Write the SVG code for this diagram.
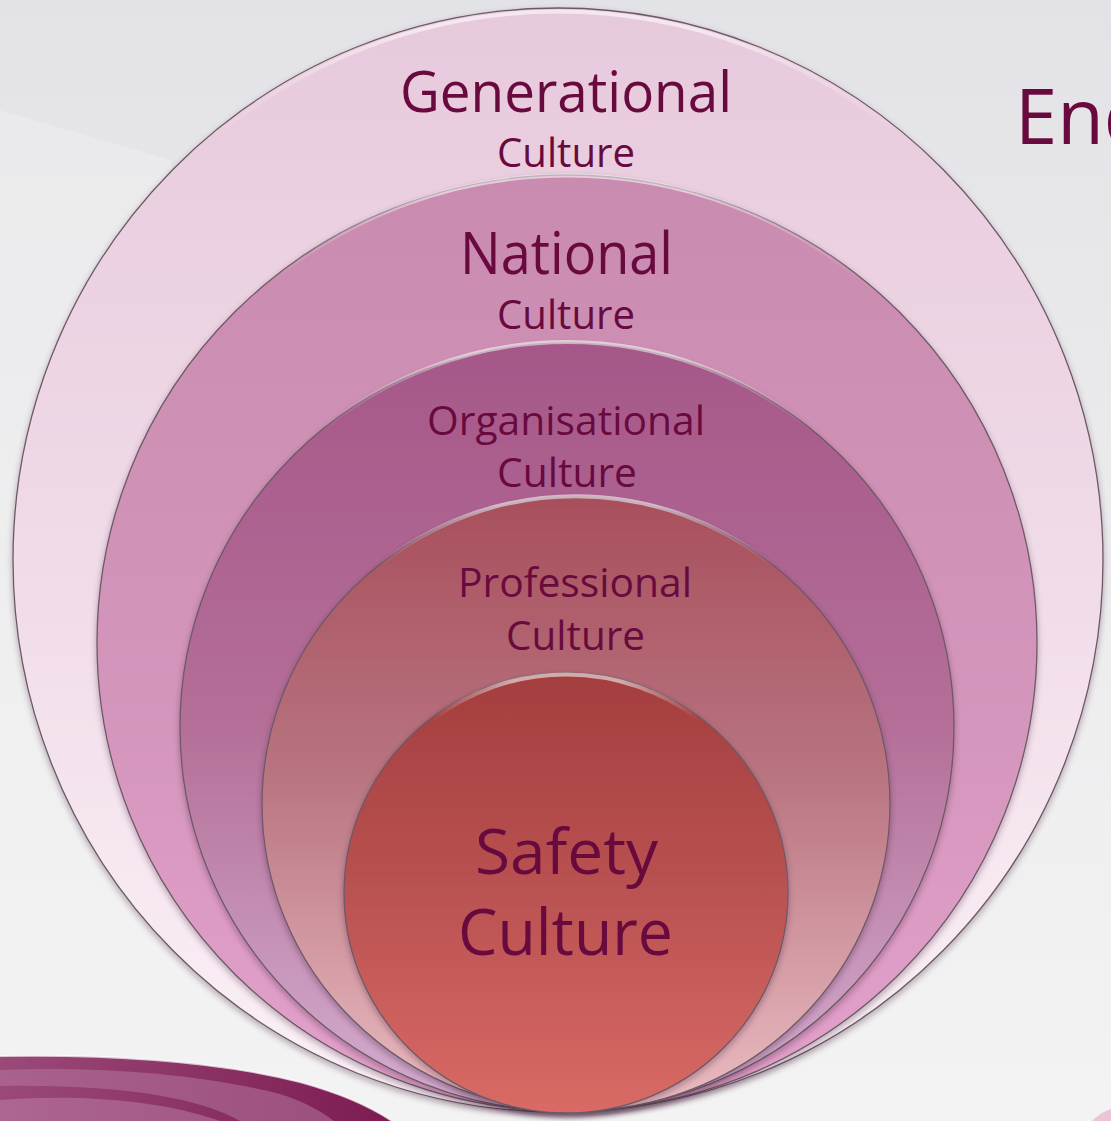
<svg xmlns="http://www.w3.org/2000/svg" width="1111" height="1121" viewBox="0 0 1111 1121">
  <defs>
    <linearGradient id="bg" x1="0" y1="0" x2="0" y2="1">
      <stop offset="0" stop-color="#e3e3e7"/>
      <stop offset="0.5" stop-color="#ececee"/>
      <stop offset="1" stop-color="#f3f3f3"/>
    </linearGradient>
    <linearGradient id="g1" x1="0" y1="0" x2="0" y2="1">
      <stop offset="0" stop-color="#e7c9dc"/>
      <stop offset="0.5" stop-color="#f0dbe8"/>
      <stop offset="1" stop-color="#fbf1f7"/>
    </linearGradient>
    <linearGradient id="g2" x1="0" y1="0" x2="0" y2="1">
      <stop offset="0" stop-color="#c98baf"/>
      <stop offset="0.6" stop-color="#d596bd"/>
      <stop offset="1" stop-color="#e3a1cb"/>
    </linearGradient>
    <linearGradient id="g3" x1="0" y1="0" x2="0" y2="1">
      <stop offset="0" stop-color="#a65789"/>
      <stop offset="0.5" stop-color="#b46f98"/>
      <stop offset="1" stop-color="#d4aed0"/>
    </linearGradient>
    <linearGradient id="g4" x1="0" y1="0" x2="0" y2="1">
      <stop offset="0" stop-color="#a84f5c"/>
      <stop offset="0.45" stop-color="#b87480"/>
      <stop offset="1" stop-color="#ebbcc2"/>
    </linearGradient>
    <linearGradient id="g5" x1="0" y1="0" x2="0" y2="1">
      <stop offset="0" stop-color="#a43e3e"/>
      <stop offset="0.5" stop-color="#ba5252"/>
      <stop offset="1" stop-color="#d96a65"/>
    </linearGradient>
    <!-- highlight along the top rim, fading out toward the sides -->
    <linearGradient id="rim" x1="0" y1="0" x2="1" y2="0">
      <stop offset="0" stop-color="#ffffff" stop-opacity="0"/>
      <stop offset="0.3" stop-color="#ffffff" stop-opacity="0.55"/>
      <stop offset="0.7" stop-color="#ffffff" stop-opacity="0.55"/>
      <stop offset="1" stop-color="#ffffff" stop-opacity="0"/>
    </linearGradient>
    <linearGradient id="swoosh" x1="0" y1="0" x2="1" y2="0">
      <stop offset="0" stop-color="#9a4a78"/>
      <stop offset="1" stop-color="#7c1b52"/>
    </linearGradient>
    <filter id="shade" x="-5%" y="-5%" width="110%" height="112%">
      <feDropShadow dx="0" dy="3" stdDeviation="3" flood-color="#3a2030" flood-opacity="0.35"/>
    </filter>
  </defs>
  <style>
    .ring { stroke: #6d5a66; stroke-width: 1.3; filter: url(#shade); }
    .gloss { fill: none; stroke: url(#rim); stroke-width: 4; }
    .lbl { font-family: "Open Sans", "Liberation Sans", sans-serif; fill: #690a3f; text-anchor: middle; }
  </style>

  <!-- backdrop -->
  <rect width="1111" height="1121" fill="url(#bg)"/>
  <path d="M0,110 L170,160 L420,1121 L0,1121 Z" fill="#f4f4f4" opacity="0.35"/>

  <!-- swoosh, lower left corner -->
  <g id="swoosh-band">
    <path d="M0,1056 C120,1054 220,1062 300,1082 C340,1093 370,1106 392,1121 L0,1121 Z" fill="url(#swoosh)"/>
    <path d="M0,1070 C100,1066 200,1074 280,1094 C300,1100 320,1110 334,1121 L240,1121 C200,1098 120,1084 0,1086 Z" fill="#b4769c" opacity="0.55"/>
    <path d="M0,1100 C80,1094 160,1100 220,1121 L0,1121 Z" fill="#c48ab0" opacity="0.45"/>
    <path d="M0,1056 C120,1054 220,1062 300,1082 C340,1093 370,1106 392,1121" fill="none" stroke="#ffffff" stroke-width="2" stroke-opacity="0.7"/>
  </g>
  <path d="M1092,1121 C1098,1115 1104,1111 1111,1109 L1111,1121 Z" fill="#e8b8d0" opacity="0.8"/>

  <!-- nested culture layers -->
  <g id="generational">
    <ellipse class="ring" cx="558" cy="560" rx="545" ry="552" fill="url(#g1)"/>
    <path class="gloss" d="M210,140 A541,548 0 0 1 906,140"/>
    <text class="lbl" x="566" y="112" font-size="56" textLength="332" lengthAdjust="spacingAndGlyphs">Generational</text>
    <text class="lbl" x="566" y="167" font-size="40" textLength="138" lengthAdjust="spacingAndGlyphs">Culture</text>
  </g>

  <g id="national">
    <ellipse class="ring" cx="567" cy="643" rx="470" ry="468" fill="url(#g2)"/>
    <path class="gloss" d="M270,282 A466,464 0 0 1 864,282"/>
    <text class="lbl" x="566.5" y="274" font-size="58" textLength="213" lengthAdjust="spacingAndGlyphs">National</text>
    <text class="lbl" x="566" y="329" font-size="40" textLength="138" lengthAdjust="spacingAndGlyphs">Culture</text>
  </g>

  <g id="organisational">
    <ellipse class="ring" cx="567" cy="727" rx="387" ry="384" fill="url(#g3)"/>
    <path class="gloss" d="M322,430 A383,380 0 0 1 812,430"/>
    <text class="lbl" x="566" y="435" font-size="41" textLength="278" lengthAdjust="spacingAndGlyphs">Organisational</text>
    <text class="lbl" x="567" y="487" font-size="41" textLength="140" lengthAdjust="spacingAndGlyphs">Culture</text>
  </g>

  <g id="professional">
    <ellipse class="ring" cx="576" cy="804" rx="314" ry="307" fill="url(#g4)"/>
    <path class="gloss" d="M378,566 A310,303 0 0 1 774,566"/>
    <text class="lbl" x="575" y="597" font-size="40" textLength="234" lengthAdjust="spacingAndGlyphs">Professional</text>
    <text class="lbl" x="575.5" y="650" font-size="41" textLength="139" lengthAdjust="spacingAndGlyphs">Culture</text>
  </g>

  <g id="safety">
    <ellipse class="ring" cx="566" cy="893" rx="222" ry="220" fill="url(#g5)"/>
    <path class="gloss" d="M432,720 A218,216 0 0 1 700,720"/>
    <text class="lbl" x="566.5" y="874" font-size="62" textLength="183" lengthAdjust="spacingAndGlyphs">Safety</text>
    <text class="lbl" x="565.5" y="955" font-size="64" textLength="215" lengthAdjust="spacingAndGlyphs">Culture</text>
  </g>

  <!-- heading running off the right edge -->
  <text id="heading" x="1015" y="144" font-family="Open Sans, Liberation Sans, sans-serif" font-size="76" fill="#690a3f">End</text>
</svg>
